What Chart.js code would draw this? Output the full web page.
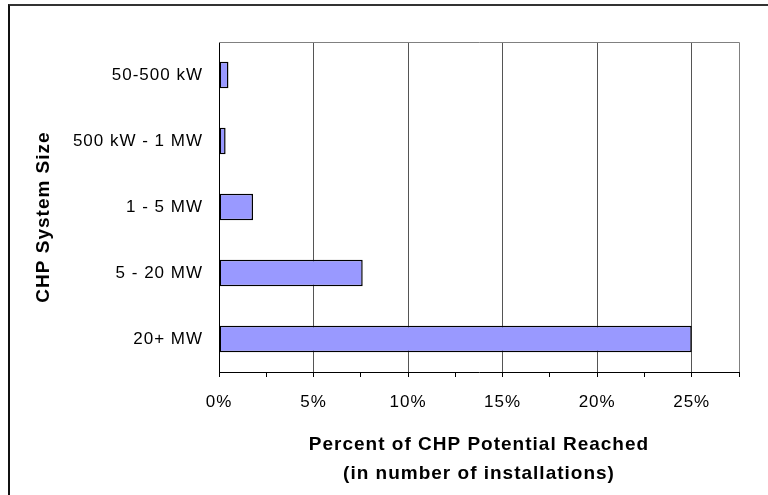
<!DOCTYPE html>
<html>
<head>
<meta charset="utf-8">
<script src="https://cdn.jsdelivr.net/npm/chart.js@4/dist/chart.umd.min.js"></script>
<style>
  body { margin: 0; background: #fff; }
  .wrap { position: relative; width: 768px; height: 495px; overflow: hidden; }
  .frame { position: absolute; left: 8px; top: 4px; right: -4px; bottom: -4px;
           border-left: 2px solid #111; border-top: 2px solid #333; }
  canvas { position: absolute; left: 0; top: 0; }
</style>
</head>
<body>
<div class="wrap">
  <canvas id="barChart" width="768" height="495"></canvas>
  <div class="frame"></div>
</div>
<script>
const sizes = ['50-500 kW', '500 kW - 1 MW', '1 - 5 MW', '5 - 20 MW', '20+ MW'];
const percentReached = [0.5, 0.35, 1.8, 7.6, 25];
const xMax = 27.5;
const xStep = 2.5;
const yTitle = 'CHP System Size';

const fontFamily = "'Liberation Sans', Arial, sans-serif";
const spacing = '1px';

// the original text is set a bit wider than Arial
const wideText = {
  id: 'wideText',
  beforeInit(chart) { chart.ctx.letterSpacing = spacing; },
  beforeDraw(chart) { chart.ctx.letterSpacing = spacing; }
};

// gray top/right edges of the plot area + the vertical axis title
const plotBox = {
  id: 'plotBox',
  beforeDatasetsDraw(chart) {
    const { ctx, chartArea: a } = chart;
    ctx.save();
    ctx.strokeStyle = '#808080';
    ctx.lineWidth = 1;
    ctx.beginPath();
    ctx.moveTo(a.left, a.top + 0.5);
    ctx.lineTo(a.right + 0.5, a.top + 0.5);
    ctx.lineTo(a.right + 0.5, a.bottom);
    ctx.stroke();
    ctx.restore();
  },
  afterDraw(chart) {
    const { ctx, chartArea: a } = chart;
    ctx.save();
    ctx.letterSpacing = spacing;
    ctx.translate(44, (a.top + a.bottom) / 2 + 10);
    ctx.rotate(-Math.PI / 2);
    ctx.font = `bold 19px ${fontFamily}`;
    ctx.fillStyle = '#000';
    ctx.textAlign = 'center';
    ctx.textBaseline = 'middle';
    ctx.fillText(yTitle, 0, 0);
    ctx.restore();
  }
};

new Chart(document.getElementById('barChart').getContext('2d'), {
  type: 'bar',
  data: {
    labels: sizes,
    datasets: [{
      data: percentReached,
      backgroundColor: '#9999FF',
      borderColor: '#000000',
      borderWidth: 1.5,
      borderSkipped: false,
      barPercentage: 0.4,
      categoryPercentage: 1
    }]
  },
  options: {
    indexAxis: 'y',
    responsive: false,
    animation: false,
    devicePixelRatio: 1,
    layout: { padding: { left: 20, top: 42, right: 29, bottom: 0 } },
    plugins: { legend: { display: false }, tooltip: { enabled: false } },
    scales: {
      x: {
        min: 0,
        max: xMax,
        afterFit: (scale) => { scale.height = 123; },
        ticks: {
          stepSize: xStep,
          padding: 15,
          color: '#000',
          font: { family: fontFamily, size: 17 },
          callback: (value) => (value % 5 === 0 ? value + '%' : '')
        },
        grid: {
          color: (c) => (c.tick && c.tick.value % 5 === 0 && c.tick.value > 0 ? '#555' : 'rgba(0,0,0,0)'),
          tickColor: '#000',
          tickLength: 5,
          lineWidth: 1
        },
        border: { color: '#000', width: 1 },
        title: {
          display: true,
          text: ['Percent of CHP Potential Reached', '(in number of installations)'],
          color: '#000',
          font: { family: fontFamily, size: 19, weight: 'bold', lineHeight: 1.5 },
          padding: { top: 0, bottom: 7 }
        }
      },
      y: {
        afterFit: (scale) => { scale.width = 199; },
        ticks: {
          padding: 16,
          color: '#000',
          font: { family: fontFamily, size: 17 }
        },
        grid: { display: false, drawTicks: false },
        border: { color: '#000', width: 1 }
      }
    }
  },
  plugins: [wideText, plotBox]
});
</script>
</body>
</html>
